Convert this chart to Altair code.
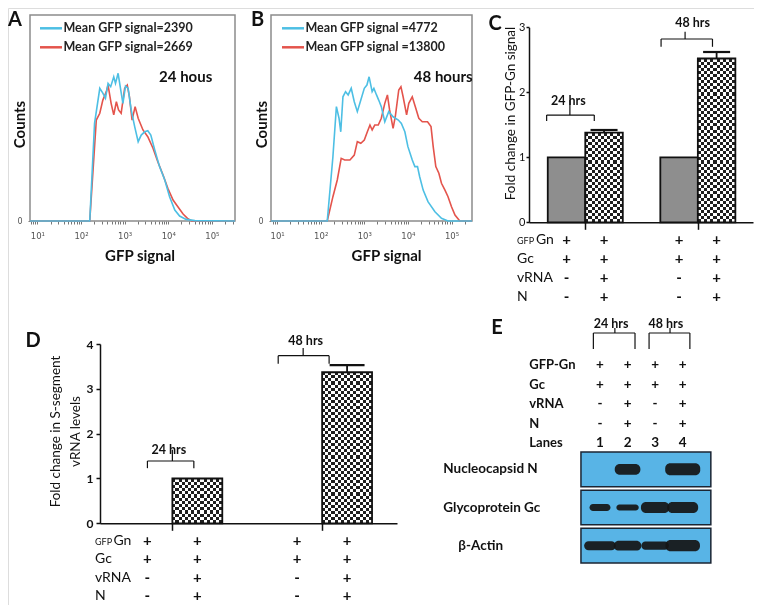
import math
import altair as alt
import pandas as pd

W, H = 746, 597
PAGE = 8


def P(v):
    """reference page pixel -> canvas pixel"""
    return v - PAGE


FONT = "Lato"
INK = "#111111"
BLUE = "#4dbfe4"
RED = "#e4544c"

# ---------------- Panel A: flow histogram, 24 h (x = log10 GFP signal, y = counts, % of axis) ----------------
a_blue_log = [0.83, 2.20, 2.31, 2.43, 2.50, 2.56, 2.62, 2.68, 2.75, 2.79, 2.85, 2.91, 2.96, 3.02, 3.08, 3.15,
              3.23, 3.31, 3.38, 3.46, 3.53, 3.60, 3.69, 3.80, 3.92, 4.03, 4.15, 4.26, 4.41, 4.61, 5.53]
a_blue_cnt = [0, 0, 47.4, 64.4, 62.1, 59.6, 66.8, 65.2, 70.0, 66.8, 71.7, 63.6, 57.1, 65.5, 64.4, 53.9,
              45.8, 38.5, 41.7, 43.3, 43.8, 41.7, 34.5, 26.4, 19.9, 11.8, 5.3, 2.4, 0.8, 0.2, 0]
a_red_log = [0.83, 2.20, 2.35, 2.43, 2.50, 2.58, 2.62, 2.69, 2.75, 2.81, 2.86, 2.92, 3.00, 3.06, 3.11, 3.17,
             3.24, 3.31, 3.42, 3.53, 3.65, 3.76, 3.88, 3.99, 4.11, 4.22, 4.34, 4.44, 4.54, 5.53]
a_red_cnt = [0, 0, 49.0, 52.3, 58.7, 62.8, 66.0, 57.1, 51.5, 57.9, 53.9, 52.3, 64.4, 66.0, 60.3, 49.0,
             55.5, 49.9, 44.2, 40.9, 35.3, 28.8, 22.3, 15.9, 10.2, 6.9, 3.4, 1.3, 0, 0]
a_labels = ["Mean GFP signal=2390", "Mean GFP signal=2669"]

# ---------------- Panel B: flow histogram, 48 h ----------------
b_blue_log = [0.86, 2.15, 2.28, 2.36, 2.42, 2.46, 2.51, 2.57, 2.63, 2.70, 2.77, 2.84, 2.92, 3.00, 3.06, 3.11,
              3.18, 3.22, 3.28, 3.33, 3.39, 3.47, 3.56, 3.66, 3.78, 3.85, 3.93, 4.00, 4.10, 4.16, 4.22, 4.27,
              4.35, 4.46, 4.62, 4.77, 4.92, 5.47]
b_blue_cnt = [0, 0, 31.2, 55.5, 49.9, 43.3, 60.3, 62.8, 61.2, 64.4, 57.9, 53.1, 58.7, 64.4, 66.0, 70.0,
              62.8, 64.4, 61.2, 58.7, 55.5, 48.2, 53.1, 50.6, 49.0, 47.4, 43.3, 36.1, 29.6, 26.4, 26.4, 21.5,
              15.0, 9.4, 4.5, 1.3, 0, 0]
b_red_log = [0.86, 2.15, 2.28, 2.38, 2.47, 2.55, 2.67, 2.77, 2.84, 2.92, 3.00, 3.07, 3.13, 3.18, 3.24, 3.32,
             3.39, 3.47, 3.53, 3.58, 3.66, 3.71, 3.79, 3.84, 3.89, 3.97, 4.02, 4.10, 4.17, 4.25, 4.33, 4.45,
             4.53, 4.58, 4.64, 4.71, 4.77, 4.85, 4.92, 5.00, 5.08, 5.19, 5.47]
b_red_cnt = [0, 0, 11.8, 19.9, 30.4, 29.6, 29.6, 32.0, 38.5, 37.7, 39.3, 43.3, 46.6, 44.2, 46.6, 46.6,
             49.9, 57.1, 61.2, 53.9, 45.0, 50.6, 63.6, 65.2, 60.3, 51.5, 57.1, 60.3, 55.5, 49.9, 48.2, 48.2,
             45.8, 36.1, 26.4, 23.2, 18.3, 15.0, 11.8, 6.9, 2.9, 0, 0]
b_labels = ["Mean GFP signal =4772", "Mean GFP signal =13800"]

# ---------------- Panels C and D: fold change bars ----------------
bar_pos = [0, 1, 3, 4]
bar_style = ["dotted", "checkered", "dotted", "checkered"]
c_fold = [1.0, 1.38, 1.0, 2.52]
c_err = [0.0, 0.04, 0.0, 0.10]
d_fold = [0.0, 1.0, 0.0, 3.37]
d_err = [0.0, 0.0, 0.0, 0.16]

cond_rows = ["GFPGn", "Gc", "vRNA", "N"]
row_gfpgn = ["+", "+", "+", "+"]
row_gc = ["+", "+", "+", "+"]
row_vrna = ["-", "+", "-", "+"]
row_n = ["-", "+", "-", "+"]

# ---------------- Panel E: western blot ----------------
lanes = [1, 2, 3, 4]
lane_labels = ["1", "2", "3", "4"]
e_rows = ["GFP-Gn", "Gc", "vRNA", "N", "Lanes"]
blot_rows = ["Nucleocapsid N", "Glycoprotein Gc", "β-Actin"]
band_n = [0.0, 0.9, 0.0, 1.0]
band_gc = [0.58, 0.5, 0.92, 0.92]
band_actin = [0.75, 0.83, 0.67, 0.92]
span_n = [0.0, 0.93, 0.0, 1.27]
span_gc = [0.76, 0.81, 1.03, 1.12]
span_actin = [1.15, 1.0, 1.0, 1.25]

SUP = {1: "\u00b9", 2: "\u00b2", 3: "\u00b3", 4: "\u2074", 5: "\u2075"}


def flow_panel(blue_log, blue_cnt, red_log, red_cnt, labels, xdom, x_px, legend_px, title_cx, counts_cx,
               note, note_xy):
    xs = alt.Scale(domain=xdom, range=[P(x_px[0]), P(x_px[1])], nice=False, zero=False)
    ys = alt.Scale(domain=[0, 100], range=[P(221), P(15)], nice=False, zero=False)
    ticks = [k + math.log10(m) for k in range(0, 6) for m in range(1, 10)]
    ticks = [t for t in ticks if xdom[0] <= t <= xdom[1]]
    label_expr = " : ".join(f"datum.value == {k} ? '10{SUP[k]}'" for k in range(1, 6)) + " : ''"
    xaxis = alt.Axis(orient="bottom", offset=P(221) - H, values=ticks, labelExpr=label_expr,
                     domain=False, tickSize=3, tickColor="#777777", tickWidth=1,
                     labelFont="DejaVu Sans", labelFontSize=8.5, labelColor="#555555", labelPadding=7,
                     labelFlush=False, labelOverlap=False, grid=False,
                     title="GFP signal", titleFont=FONT, titleFontSize=15, titleFontWeight="bold",
                     titleColor=INK, titleX=P(title_cx), titleY=34, titleAlign="center",
                     titleBaseline="middle")
    yaxis = alt.Axis(orient="left", offset=-P(x_px[0]), values=[0], domain=False, tickSize=2,
                     tickColor="#777777", labelFont="DejaVu Sans", labelFontSize=8, labelColor="#555555",
                     labelPadding=6, grid=False, title="Counts", titleFont=FONT, titleFontSize=15,
                     titleFontWeight="bold", titleColor=INK, titleX=counts_cx - x_px[0], titleY=P(124),
                     titleAngle=270, titleAlign="center", titleBaseline="middle")
    color = alt.Color("series:N", scale=alt.Scale(domain=labels, range=[BLUE, RED]),
                      legend=alt.Legend(orient="none", legendX=P(legend_px[0]), legendY=P(legend_px[1]),
                                        title=None, symbolType="stroke", symbolSize=484,
                                        symbolStrokeWidth=2.5, rowPadding=-8, labelFont=FONT,
                                        labelFontSize=12.5, labelFontWeight="bold", labelColor="#222222",
                                        labelOffset=0, padding=0))
    df_blue = pd.DataFrame({"log_gfp": blue_log, "count": blue_cnt, "series": labels[0]})
    df_red = pd.DataFrame({"log_gfp": red_log, "count": red_cnt, "series": labels[1]})
    enc = dict(x=alt.X("log_gfp:Q", scale=xs, axis=xaxis), y=alt.Y("count:Q", scale=ys, axis=yaxis),
               color=color)
    red_line = alt.Chart(df_red).mark_line(strokeWidth=1.6).encode(**enc)
    blue_line = alt.Chart(df_blue).mark_line(strokeWidth=1.6).encode(**enc)
    frame = alt.Chart(pd.DataFrame({"x0": [xdom[0]], "x1": [xdom[1]], "y0": [0], "y1": [100]})).mark_rect(
        fill="transparent", stroke="#8c8c8c", strokeWidth=1.5).encode(
        x=alt.X("x0:Q", scale=xs, axis=xaxis), x2="x1:Q", y=alt.Y("y0:Q", scale=ys, axis=yaxis), y2="y1:Q")
    note_layer = alt.Chart(pd.DataFrame({"x": [note_xy[0]], "y": [note_xy[1]], "t": [note]})).mark_text(
        font=FONT, fontSize=15, fontWeight="bold", color=INK).encode(
        x=alt.X("x:Q", scale=xs, axis=xaxis), y=alt.Y("y:Q", scale=ys, axis=yaxis), text="t:N")
    return alt.layer(frame, red_line, blue_line, note_layer)


def stripes(c1, c2, n, vertical_stripes=True):
    stops = []
    for i in range(n):
        col = c1 if i % 2 == 0 else c2
        stops.append(alt.GradientStop(offset=i / n, color=col))
        stops.append(alt.GradientStop(offset=(i + 1) / n, color=col))
    if vertical_stripes:
        return alt.LinearGradient(gradient="linear", stops=stops, x1=0, x2=1, y1=0, y2=0)
    return alt.LinearGradient(gradient="linear", stops=stops, x1=0, x2=0, y1=0, y2=1)


def bracket_rows(x0, x1, xc, y, y_end, y_top):
    return [dict(x=x0, x2=x1, y=y, y2=y), dict(x=x0, x2=x0, y=y, y2=y_end),
            dict(x=x1, x2=x1, y=y, y2=y_end), dict(x=xc, x2=xc, y=y, y2=y_top)]


def bar_panel(fold, err, xs, ys, x_axis, y_axis, bar_px, px_per_unit, cap, brackets, notes):
    df = pd.DataFrame({"pos": bar_pos, "fold": fold, "err": err, "style": bar_style})
    base = alt.Chart(df).transform_calculate(
        lo="datum.pos - 0.5", hi="datum.pos + 0.5", top="datum.fold + datum.err",
        c0=f"datum.pos - {cap}", c1=f"datum.pos + {cap}")
    X = lambda f: alt.X(f, scale=xs, axis=x_axis)
    Y = lambda f: alt.Y(f, scale=ys, axis=y_axis)
    rect_enc = dict(x=X("lo:Q"), x2="hi:Q", y=Y("fold:Q"), y2=alt.datum(0))
    layers = [base.transform_filter("datum.style == 'dotted' && datum.fold > 0").mark_rect(
        fill="#8e8e8e", stroke=INK, strokeWidth=1.8).encode(**rect_enc)]
    n_v = max(2, round(bar_px / 3.1))
    for p, f, s in zip(bar_pos, fold, bar_style):
        if s != "checkered" or f <= 0:
            continue
        n_h = max(2, round(f * px_per_unit / 3.1))
        one = base.transform_filter(f"datum.pos == {p}")
        layers.append(one.mark_rect(fill=stripes("#ffffff", "#000000", n_v)).encode(**rect_enc))
        layers.append(one.mark_rect(fill=stripes("#ffffff", "#000000", n_h, vertical_stripes=False),
                                    blend="difference").encode(**rect_enc))
        layers.append(one.mark_rect(fill="#ffffff", opacity=0.12).encode(**rect_enc))
        layers.append(one.mark_rect(fill="transparent", stroke=INK, strokeWidth=1.8).encode(**rect_enc))
    eb = base.transform_filter("datum.err > 0")
    layers.append(eb.mark_rule(color=INK, strokeWidth=1.8).encode(x=X("pos:Q"), y=Y("fold:Q"), y2="top:Q"))
    layers.append(eb.mark_rule(color=INK, strokeWidth=2.2).encode(x=X("c0:Q"), x2="c1:Q", y=Y("top:Q")))
    segs = []
    for b in brackets:
        segs += bracket_rows(*b)
    layers.append(alt.Chart(pd.DataFrame(segs)).mark_rule(color=INK, strokeWidth=1.2).encode(
        x=X("x:Q"), x2="x2:Q", y=Y("y:Q"), y2="y2:Q"))
    layers.append(alt.Chart(pd.DataFrame(notes, columns=["x", "y", "t"])).mark_text(
        font=FONT, fontSize=12.5, fontWeight="bold", color=INK).encode(x=X("x:Q"), y=Y("y:Q"), text="t:N"))
    return alt.layer(*layers)


def cond_table(xs, positions, rows, marks_by_row, y_range, label_x, sym_size, label_size, label_weight,
               split_first=None):
    long = [{"row": r, "pos": p, "mark": m} for r, marks in zip(rows, marks_by_row)
            for p, m in zip(positions, marks)]
    ys = alt.Scale(type="point", domain=rows, range=[P(y_range[0]), P(y_range[1])], padding=0)
    sym = alt.Chart(pd.DataFrame(long)).mark_text(font=FONT, fontSize=sym_size, fontWeight="bold",
                                                   color=INK).encode(
        x=alt.X("pos:Q", scale=xs, axis=None), y=alt.Y("row:N", scale=ys, axis=None), text="mark:N")
    lab_df = pd.DataFrame({"row": rows})
    layers = [sym]
    if split_first is None:
        layers.append(alt.Chart(lab_df).mark_text(align="left", font=FONT, fontSize=label_size,
                                                  fontWeight=label_weight, color=INK).encode(
            x=alt.value(P(label_x)), y=alt.Y("row:N", scale=ys, axis=None), text="row:N"))
    else:
        small_x, gn_x = split_first
        layers.append(alt.Chart(lab_df).transform_filter(f"datum.row != '{rows[0]}'").mark_text(
            align="left", font=FONT, fontSize=label_size, fontWeight=label_weight, color=INK).encode(
            x=alt.value(P(label_x)), y=alt.Y("row:N", scale=ys, axis=None), text="row:N"))
        first = pd.DataFrame({"row": [rows[0]], "small": ["GFP"], "big": ["Gn"]})
        layers.append(alt.Chart(first).mark_text(align="left", font=FONT, fontSize=9, color=INK,
                                                  dy=1).encode(
            x=alt.value(P(small_x)), y=alt.Y("row:N", scale=ys, axis=None), text="small:N"))
        layers.append(alt.Chart(first).mark_text(align="left", font=FONT, fontSize=label_size,
                                                  fontWeight=label_weight, color=INK).encode(
            x=alt.value(P(gn_x)), y=alt.Y("row:N", scale=ys, axis=None), text="big:N"))
    return alt.layer(*layers)


# ---------------- build panels ----------------
panel_a = flow_panel(a_blue_log, a_blue_cnt, a_red_log, a_red_cnt, a_labels, [0.83, 5.53], [30, 235],
                     [38.5, 15.8], 139.5, 19, "24 hous", (4.40, 70.0))
panel_b = flow_panel(b_blue_log, b_blue_cnt, b_red_log, b_red_cnt, b_labels, [0.86, 5.47], [271, 472],
                     [280.5, 15.8], 386, 261, "48 hours", (4.81, 69.7))

cx = alt.Scale(domain=[-1.0, 4.97], range=[P(529), P(753)], nice=False, zero=False)
cy = alt.Scale(domain=[0, 3], range=[P(222.3), P(27.3)], nice=False, zero=False)
c_xaxis = alt.Axis(orient="bottom", offset=P(222.3) - H, values=[0.5, 3.5], labels=False, tickSize=7,
                   tickColor=INK, tickWidth=1.5, domainColor=INK, domainWidth=1.5, grid=False, title=None)
c_yaxis = alt.Axis(orient="left", offset=-P(529), values=[0, 1, 2, 3], tickSize=3, tickColor=INK,
                   tickWidth=1.5, labelPadding=1, labelFont=FONT, labelFontSize=11, labelColor=INK,
                   domainColor=INK, domainWidth=1.5, grid=False, title="Fold change in GFP-Gn signal",
                   titleFont=FONT, titleFontSize=13.5, titleFontWeight="normal", titleColor=INK,
                   titleX=510 - 529, titleY=P(113), titleAngle=270, titleAlign="center",
                   titleBaseline="middle")
c_bars = bar_panel(c_fold, c_err, cx, cy, c_xaxis, c_yaxis, 37.5, 65.0, 0.36,
                   [(-0.53, 0.74, 0.09, 1.65, 1.56, 1.88), (2.52, 3.89, 3.16, 2.82, 2.70, 2.93)],
                   [(0.05, 1.86, "24 hrs"), (3.36, 3.06, "48 hrs")])
c_table = cond_table(cx, bar_pos, cond_rows, [row_gfpgn, row_gc, row_vrna, row_n], (240, 296.7), 517,
                     15, 14, "normal", split_first=(517, 536))

dx = alt.Scale(domain=[-0.95, 5.0], range=[P(100), P(397)], nice=False, zero=False)
dy = alt.Scale(domain=[0, 4], range=[P(523.3), P(344)], nice=False, zero=False)
d_xaxis = alt.Axis(orient="bottom", offset=P(523.3) - H, values=[0.5, 3.5], labels=False, tickSize=7,
                   tickColor=INK, tickWidth=1.5, domainColor=INK, domainWidth=1.5, grid=False, title=None)
d_yaxis = alt.Axis(orient="left", offset=-P(100), values=[0, 1, 2, 3, 4], tickSize=4, tickColor=INK,
                   tickWidth=1.5, labelPadding=3, labelFont=FONT, labelFontSize=12, labelFontWeight="bold",
                   labelColor=INK, domainColor=INK, domainWidth=1.5, grid=False,
                   title=["Fold change in S-segment", "vRNA  levels"], titleFont=FONT, titleFontSize=13.5,
                   titleFontWeight="normal", titleColor=INK, titleLineHeight=20, titleX=55 - 100,
                   titleY=P(431), titleAngle=270, titleAlign="center", titleBaseline="middle")
d_bars = bar_panel(d_fold, d_err, dx, dy, d_xaxis, d_yaxis, 49.9, 44.8, 0.35,
                   [(0.0, 0.93, 0.50, 1.39, 1.23, 1.64), (2.62, 3.64, 3.12, 3.74, 3.56, 3.91)],
                   [(0.43, 1.64, "24 hrs"), (3.17, 4.07, "48 hrs")])
d_table = cond_table(dx, bar_pos, cond_rows, [row_gfpgn, row_gc, row_vrna, row_n], (541, 596), 95,
                     15, 14, "normal", split_first=(95, 113.5))

# Panel E
ex = alt.Scale(domain=[0.5, 4.5], range=[P(586.2), P(696.5)], nice=False, zero=False)
e_table = cond_table(ex, lanes, e_rows, [row_gfpgn, row_gc, row_vrna, row_n, lane_labels],
                     (365, 443.3), 529.3, 13.5, 13, "bold")
e_hline = alt.Chart(pd.DataFrame({"x0": [0.76, 2.78], "x1": [2.27, 4.26]})).mark_rule(
    color=INK, strokeWidth=1.2).encode(x=alt.X("x0:Q", scale=ex, axis=None), x2="x1:Q", y=alt.value(P(333)))
e_ends = alt.Chart(pd.DataFrame({"x": [0.76, 2.27, 2.78, 4.26]})).mark_rule(
    color=INK, strokeWidth=1.2).encode(x=alt.X("x:Q", scale=ex, axis=None), y=alt.value(P(333)),
                                       y2=alt.value(P(349)))
e_mid = alt.Chart(pd.DataFrame({"x": [1.54, 3.54]})).mark_rule(
    color=INK, strokeWidth=1.2).encode(x=alt.X("x:Q", scale=ex, axis=None), y=alt.value(P(333)),
                                       y2=alt.value(P(328)))
e_txt = alt.Chart(pd.DataFrame({"x": [1.40, 3.39], "t": ["24 hrs", "48 hrs"]})).mark_text(
    font=FONT, fontSize=12.5, fontWeight="bold", color=INK).encode(
    x=alt.X("x:Q", scale=ex, axis=None), y=alt.value(P(324)), text="t:N")
e_head = alt.layer(e_hline, e_ends, e_mid, e_txt)

ey = alt.Scale(type="band", domain=blot_rows, range=[P(452), P(563)], paddingInner=0.09, paddingOuter=0)
box = alt.Chart(pd.DataFrame({"row": blot_rows, "x0": 0.31, "x1": 5.02})).mark_rect(
    fill="#58b4e6", stroke="#1b2533", strokeWidth=1.5).encode(
    x=alt.X("x0:Q", scale=ex, axis=None), x2="x1:Q", y=alt.Y("row:N", scale=ey, axis=None))
band_long = []
for r, strengths, spans in zip(blot_rows, [band_n, band_gc, band_actin], [span_n, span_gc, span_actin]):
    for lane, s, w in zip(lanes, strengths, spans):
        band_long.append({"row": r, "lane": lane, "strength": s, "span": w})
bands = alt.Chart(pd.DataFrame(band_long)).transform_filter("datum.strength > 0").transform_calculate(
    lo="datum.lane - datum.span / 2", hi="datum.lane + datum.span / 2").mark_bar(
    color="#151515", cornerRadius=5, opacity=0.93).encode(
    x=alt.X("lo:Q", scale=ex, axis=None), x2="hi:Q", y=alt.Y("row:N", scale=ey, axis=None),
    size=alt.Size("strength:Q", scale=alt.Scale(domain=[0, 1], range=[0, 12]), legend=None))
blot_lab = alt.Chart(pd.DataFrame({"row": blot_rows})).transform_filter("datum.row != 'β-Actin'").mark_text(
    align="left", font=FONT, fontSize=13.5, fontWeight="bold", color=INK).encode(
    x=alt.value(P(443.3)), y=alt.Y("row:N", scale=ey, axis=None), text="row:N")
actin_lab = alt.Chart(pd.DataFrame({"row": blot_rows})).transform_filter("datum.row == 'β-Actin'").mark_text(
    align="left", font=FONT, fontSize=13.5, fontWeight="bold", color=INK).encode(
    x=alt.value(P(458.3)), y=alt.Y("row:N", scale=ey, axis=None), text="row:N")
e_blot = alt.layer(box, bands, blot_lab, actin_lab)

letters = []
for t, x, y in [("A", 15, 25.5), ("B", 257.5, 25.5), ("C", 495, 30), ("D", 33, 346.5), ("E", 497, 334)]:
    letters.append(alt.Chart(pd.DataFrame({"t": [t]})).mark_text(
        font=FONT, fontSize=20, fontWeight="bold", color=INK, baseline="alphabetic").encode(
        x=alt.value(P(x)), y=alt.value(P(y)), text="t:N"))

chart = alt.layer(panel_a, panel_b, c_bars, c_table, d_bars, d_table, e_head, e_table, e_blot,
                  *letters).resolve_scale(
    x="independent", y="independent", color="independent", size="independent").properties(
    width=W, height=H, autosize=alt.AutoSizeParams(type="none"), padding=0).configure_view(
    strokeWidth=0).configure(font=FONT)

chart.save("out.html", embed_options={"renderer": "svg", "actions": False})
